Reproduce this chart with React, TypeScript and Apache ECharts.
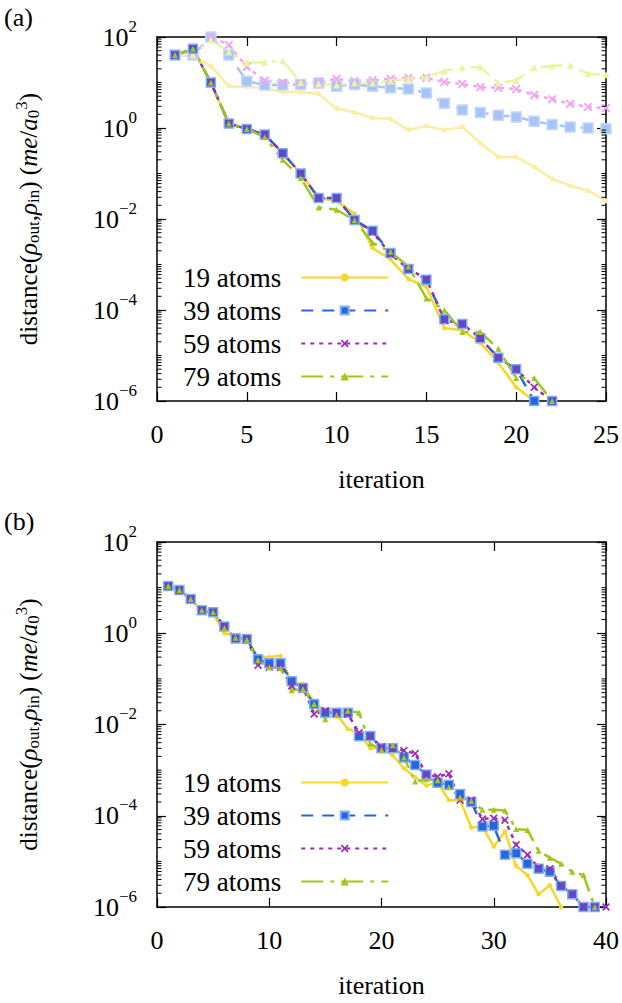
import { useEffect, useRef } from 'react';
import * as echarts from 'echarts';

const FONT = 'Liberation Serif, DejaVu Serif, serif';

const LEGEND_NAMES = ['19 atoms', '39 atoms', '59 atoms', '79 atoms'];

// Panel (a): values for iterations 1, 2, 3, ...
const aYellow19 = [40, 55, 10, 1.25, 0.95, 0.72, 0.28, 0.1, 0.029, 0.025, 0.013, 0.0023, 0.0013, 0.00048, 0.00032, 4.0e-5, 3.6e-5, 1.9e-5, 7.0e-6, 2.0e-6, 1.0e-6];
const aBlue39 = [40, 55, 10, 1.25, 0.95, 0.72, 0.28, 0.1, 0.029, 0.029, 0.0095, 0.0055, 0.0018, 0.0008, 0.00046, 6.3e-5, 4.9e-5, 2.4e-5, 8.9e-6, 5.0e-6, 1.0e-6, 1.0e-6];
const aPurple59 = [40, 55, 10, 1.25, 0.95, 0.72, 0.28, 0.1, 0.029, 0.029, 0.0095, 0.0052, 0.0017, 0.0008, 0.00048, 6.0e-5, 5.0e-5, 2.4e-5, 9.0e-6, 5.0e-6, 2.0e-6, 1.0e-6];
const aGreen79 = [40, 55, 10, 1.25, 0.95, 0.63, 0.2, 0.08, 0.018, 0.016, 0.0094, 0.003, 0.0019, 0.0009, 0.00018, 1.0e-4, 3.3e-5, 3.3e-5, 1.4e-5, 3.2e-6, 3.2e-6, 1.0e-6];
// Panel (a): faded (non-converging) runs
const aYellow19Faded = [40, 40, 23, 8.3, 8.0, 7.6, 6.2, 6.2, 5.6, 2.7, 2.2, 1.66, 1.6, 0.91, 1.1, 0.91, 1.05, 0.47, 0.23, 0.23, 0.14, 0.076, 0.054, 0.042, 0.025];
const aBlue39Faded = [40, 40, 100, 40, 10.7, 8.8, 8.8, 9.0, 9.7, 8.3, 9.0, 8.3, 7.6, 7.2, 5.9, 3.5, 2.5, 2.2, 1.9, 1.75, 1.4, 1.2, 1.05, 1.0, 0.96];
const aPurple59Faded = [40, 40, 100, 67, 22, 11, 10, 9.3, 10.2, 12, 10.8, 11.2, 12, 12.6, 12.6, 10.2, 9.3, 7.9, 7.6, 7.2, 5.3, 4.3, 3.4, 2.9, 2.75];
const aGreen79Faded = [40, 40, 86, 47, 27, 28, 30, 10, 9.5, 8.8, 9.7, 9.7, 10.8, 12, 13.2, 18, 21, 22, 9.8, 11.2, 21, 23, 24, 15.5, 14.8];

// Panel (b)
const bYellow19 = [10.8, 8.9, 5.6, 3.2, 2.7, 1.0, 0.9, 0.75, 0.3, 0.3, 0.32, 0.08, 0.077, 0.03, 0.02, 0.017, 0.008, 0.0066, 0.003, 0.003, 0.0021, 0.0011, 7.0e-4, 4.6e-4, 5.3e-4, 2.2e-4, 2.2e-4, 5.5e-5, 5.8e-5, 2.1e-5, 4.5e-5, 7.9e-6, 5.0e-6, 1.9e-6, 3.0e-6, 1.0e-6];
const bBlue39 = [10.8, 8.9, 5.6, 3.2, 2.9, 1.4, 0.77, 0.75, 0.27, 0.22, 0.22, 0.089, 0.063, 0.028, 0.018, 0.018, 0.018, 0.0055, 0.0056, 0.003, 0.003, 0.0019, 0.0013, 8.0e-4, 5.3e-4, 4.8e-4, 3.0e-4, 2.0e-4, 5.8e-5, 6.0e-5, 1.4e-5, 1.5e-5, 8.9e-6, 6.9e-6, 5.9e-6, 2.9e-6, 1.9e-6, 1.0e-6, 1.0e-6];
const bPurple59 = [10.8, 8.9, 5.6, 3.2, 2.9, 1.4, 0.77, 0.75, 0.2, 0.18, 0.18, 0.07, 0.065, 0.017, 0.02, 0.018, 0.017, 0.0066, 0.0055, 0.0032, 0.003, 0.0027, 0.0023, 8.0e-4, 7.2e-4, 8.3e-4, 2.2e-4, 2.2e-4, 8.5e-5, 8.8e-5, 8.0e-5, 2.3e-5, 1.4e-5, 7.2e-6, 6.9e-6, 3.0e-6, 1.9e-6, 1.0e-6, 1.0e-6, 1.0e-6];
const bGreen79 = [10.8, 8.9, 5.6, 3.2, 2.9, 1.3, 0.8, 0.72, 0.26, 0.18, 0.17, 0.056, 0.06, 0.028, 0.013, 0.016, 0.02, 0.018, 0.0038, 0.0028, 0.0035, 0.0019, 5.6e-4, 6.3e-4, 6.0e-4, 4.2e-4, 2.5e-4, 2.1e-4, 1.35e-4, 1.35e-4, 1.3e-4, 5.1e-5, 4.9e-5, 1.7e-5, 1.2e-5, 8.9e-6, 5.9e-6, 5.0e-6, 1.0e-6];

// Axis settings
const aXMax = 25;
const aXInterval = 5;
const bXMax = 40;
const bXInterval = 10;
const yMin = 1e-6;
const yMax = 100;
const yMinorMultipliers = [2, 3, 4, 5, 6, 7, 8, 9];
const yDecades = [-6, -5, -4, -3, -2, -1, 0, 1];

const X_SYMBOL = 'path://M0,1.5L1.5,0L5,3.5L8.5,0L10,1.5L6.5,5L10,8.5L8.5,10L5,6.5L1.5,10L0,8.5L3.5,5Z';

const STYLES: Record<string, any> = {
  y: { color: '#F5D82B', border: '#F5D82B', bw: 0, dash: 'solid', symbol: 'circle', size: 4.5 },
  b: { color: '#2367DD', border: '#86AEF0', bw: 1.5, dash: [12, 9], symbol: 'rect', size: 9 },
  p: { color: '#9A2FB5', border: '#9A2FB5', bw: 0, dash: [4, 5], symbol: X_SYMBOL, size: 8 },
  g: { color: '#9FC71E', border: '#9FC71E', bw: 0, dash: [22, 7, 4, 7], symbol: 'triangle', size: 6 },
  yF: { color: '#FCEDA0', border: '#FCEDA0', bw: 0, dash: 'solid', symbol: 'circle', size: 5 },
  bF: { color: '#A8C4F7', border: '#C6D9FA', bw: 1.5, dash: [12, 9], symbol: 'rect', size: 10 },
  pF: { color: '#F0A6F0', border: '#F0A6F0', bw: 0, dash: [4, 5], symbol: X_SYMBOL, size: 9 },
  gF: { color: '#EBF5A0', border: '#EBF5A0', bw: 0, dash: [22, 7, 4, 7], symbol: 'triangle', size: 7 },
};

function lineSeries(name: string, values: number[], st: any, panel: number) {
  return {
    type: 'line',
    name,
    xAxisIndex: panel * 2,
    yAxisIndex: panel * 2,
    data: values.map((v, i) => [i + 1, v]),
    symbol: st.symbol,
    symbolSize: st.size,
    showSymbol: true,
    lineStyle: { color: st.color, width: 2.5, type: st.dash },
    itemStyle: { color: st.color, borderColor: st.border, borderWidth: st.bw },
    emphasis: { disabled: true },
    clip: false,
    silent: true,
    z: 3,
  };
}

function minorTickSeries(panel: number, values: number[]) {
  return {
    type: 'custom',
    xAxisIndex: panel * 2,
    yAxisIndex: panel * 2,
    silent: true,
    clip: false,
    z: 5,
    data: values.map((v) => [0, v]),
    renderItem: (params: any, api: any) => {
      const cs = params.coordSys;
      const y = api.coord([0, api.value(1)])[1];
      const st = { stroke: '#000', lineWidth: 1 };
      return {
        type: 'group',
        children: [
          { type: 'line', shape: { x1: cs.x, y1: y, x2: cs.x + 4.5, y2: y }, style: st },
          { type: 'line', shape: { x1: cs.x + cs.width - 4.5, y1: y, x2: cs.x + cs.width, y2: y }, style: st },
        ],
      };
    },
  };
}

const yLabelFormatter = (v: number) => {
  const e = Math.round(Math.log10(v));
  return '{b|10}{s|' + (e < 0 ? '\u2212' + -e : String(e)) + '}';
};

function xAxes(grid: number, max: number, interval: number) {
  const common = {
    gridIndex: grid,
    type: 'value',
    min: 0,
    max,
    interval,
    splitLine: { show: false },
    axisLine: { show: true, onZero: false, lineStyle: { color: '#000', width: 1.5 } },
    axisTick: { show: true, inside: true, length: 9, lineStyle: { color: '#000', width: 1.2 } },
  };
  return [
    {
      ...common,
      position: 'bottom',
      axisLabel: { show: true, color: '#000', fontFamily: FONT, fontSize: 26, margin: 20 },
      name: 'iteration',
      nameLocation: 'middle',
      nameGap: 65,
      nameTextStyle: { color: '#000', fontFamily: FONT, fontSize: 26 },
    },
    { ...common, position: 'top', axisLabel: { show: false } },
  ];
}

function yAxes(grid: number) {
  const common = {
    gridIndex: grid,
    type: 'log',
    logBase: 10,
    min: yMin,
    max: yMax,
    interval: 2,
    splitLine: { show: false },
    minorTick: { show: false },
    axisLine: { show: true, onZero: false, lineStyle: { color: '#000', width: 1.5 } },
    axisTick: { show: true, inside: true, length: 9, lineStyle: { color: '#000', width: 1.2 } },
  };
  return [
    {
      ...common,
      position: 'left',
      axisLabel: {
        show: true,
        color: '#000',
        margin: 20,
        formatter: yLabelFormatter,
        rich: {
          b: { fontFamily: FONT, fontSize: 26, color: '#000' },
          s: { fontFamily: FONT, fontSize: 17, color: '#000', padding: [0, 0, 22, 0] },
        },
      },
      name: '{t|distance(}{i|\u03c1}{s|out}{t|,}{i|\u03c1}{s|in}{t|) (}{i|me}{t|/}{i|a}{s|0}{p|3}{t|)}',
      nameLocation: 'middle',
      nameRotate: 90,
      nameGap: 113,
      nameTextStyle: {
        color: '#000',
        fontFamily: FONT,
        fontSize: 25,
        rich: {
          t: { fontFamily: FONT, fontSize: 25, color: '#000' },
          i: { fontFamily: FONT, fontSize: 25, fontStyle: 'italic', color: '#000' },
          s: { fontFamily: FONT, fontSize: 17, color: '#000', padding: [10, 0, 0, 0] },
          p: { fontFamily: FONT, fontSize: 17, color: '#000', padding: [0, 0, 14, 0] },
        },
      },
    },
    { ...common, position: 'right', axisLabel: { show: false } },
  ];
}

function legend(top: number) {
  return {
    data: LEGEND_NAMES,
    orient: 'vertical',
    left: 178,
    top,
    align: 'right',
    itemWidth: 87,
    itemHeight: 10,
    itemGap: 6,
    selectedMode: false,
    textStyle: { fontFamily: FONT, fontSize: 27, color: '#000', lineHeight: 26, padding: [0, 15, 0, 0] },
  };
}

export default function App() {
  const ref = useRef<HTMLDivElement>(null);

  useEffect(() => {
    if (!ref.current) return;
    const chart = echarts.init(ref.current, undefined, { renderer: 'svg' });

    const minorValues: number[] = [];
    yDecades.forEach((d) => {
      if (d % 2 !== 0) minorValues.push(Math.pow(10, d));
      yMinorMultipliers.forEach((m) => minorValues.push(m * Math.pow(10, d)));
    });

    const option: any = {
      animation: false,
      backgroundColor: '#fff',
      textStyle: { fontFamily: FONT },
      grid: [
        { left: 157, top: 37, width: 450, height: 364 },
        { left: 157, top: 542, width: 450, height: 365 },
      ],
      xAxis: [...xAxes(0, aXMax, aXInterval), ...xAxes(1, bXMax, bXInterval)],
      yAxis: [...yAxes(0), ...yAxes(1)],
      legend: [legend(259), legend(764)],
      graphic: [
        { type: 'text', left: 4, top: 4, style: { text: '(a)', fontSize: 26, fontFamily: FONT, fill: '#000' } },
        { type: 'text', left: 4, top: 508, style: { text: '(b)', fontSize: 26, fontFamily: FONT, fill: '#000' } },
      ],
      series: [
        lineSeries('19 atoms (not converged)', aYellow19Faded, STYLES.yF, 0),
        lineSeries('39 atoms (not converged)', aBlue39Faded, STYLES.bF, 0),
        lineSeries('59 atoms (not converged)', aPurple59Faded, STYLES.pF, 0),
        lineSeries('79 atoms (not converged)', aGreen79Faded, STYLES.gF, 0),
        lineSeries('19 atoms', aYellow19, STYLES.y, 0),
        lineSeries('39 atoms', aBlue39, STYLES.b, 0),
        lineSeries('59 atoms', aPurple59, STYLES.p, 0),
        lineSeries('79 atoms', aGreen79, STYLES.g, 0),
        lineSeries('19 atoms', bYellow19, STYLES.y, 1),
        lineSeries('39 atoms', bBlue39, STYLES.b, 1),
        lineSeries('59 atoms', bPurple59, STYLES.p, 1),
        lineSeries('79 atoms', bGreen79, STYLES.g, 1),
        minorTickSeries(0, minorValues),
        minorTickSeries(1, minorValues),
      ],
    };
    chart.setOption(option);
    return () => chart.dispose();
  }, []);

  return <div ref={ref} style={{ position: 'absolute', left: 0, top: 0, width: 622, height: 1003 }} />;
}
